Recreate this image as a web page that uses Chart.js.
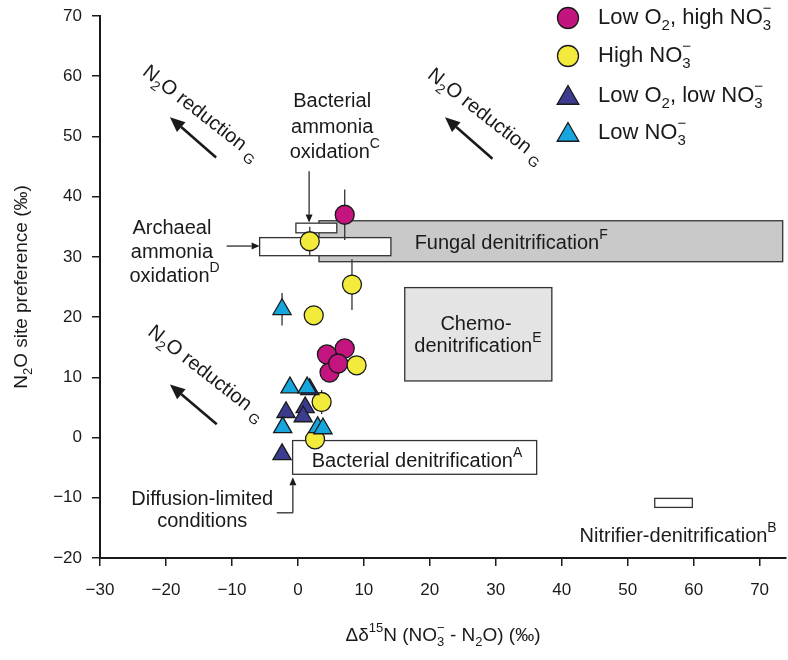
<!DOCTYPE html>
<html>
<head>
<meta charset="utf-8">
<script src="https://cdn.jsdelivr.net/npm/chart.js@4.4.1/dist/chart.umd.min.js"></script>
<style>
  html, body { margin: 0; padding: 0; background: #fff; }
  #wrap { width: 788px; height: 660px; }
</style>
</head>
<body>
<div id="wrap"><canvas id="chart" width="788" height="660"></canvas></div>
<script>
const FONT = '"Liberation Sans", Arial, sans-serif';
const MINUS = '\u2212';

// axis ranges / ticks
const xMin = -30, xMax = 74, xStep = 10;
const yMin = -20, yMax = 70, yStep = 10;

// Low O2, high NO3-
const magentaX = [7.1, 4.4, 7.1, 4.8, 6.1];
const magentaY = [37.0, 13.8, 14.8, 10.8, 12.3];
const magentaErr = [4.2, 0, 0, 0, 0];

// High NO3-
const yellowX = [1.8, 8.2, 2.4, 8.9, 3.6, 2.6];
const yellowY = [32.6, 25.4, 20.3, 12.0, 5.9, -0.3];
const yellowErr = [2.4, 4.2, 0, 0, 2.0, 0];

// Low O2, low NO3-
const darkX = [1.8, -1.8, 1.1, 0.8, -2.4];
const darkY = [8.0, 4.2, 5.0, 3.5, -2.8];

// Low NO3-
const lightX = [-2.4, -1.2, 1.4, -2.3, 3.0, 3.8];
const lightY = [21.3, 8.3, 8.3, 1.7, 1.7, 1.5];
const lightErr = [2.7, 0, 0, 0, 0, 0];

// process ranges (boxes), in data units
const regionX0 = [3.2, -5.8, -0.3, 16.2, -0.8, 54.1];
const regionX1 = [73.5, 14.1, 5.9, 38.5, 36.2, 59.8];
const regionY0 = [29.2, 30.2, 34.0, 9.4, -6.1, -11.6];
const regionY1 = [36.0, 33.2, 35.6, 24.9, -0.5, -10.1];
const regionFill = ['#c9c9c9', '#ffffff', '#ffffff', '#e4e4e4', '#ffffff', '#ffffff'];

const toPts = (xs, ys) => xs.map((x, i) => ({ x: x, y: ys[i] }));

// ---- rich text helpers (sub / superscripts) ----
function partFont(size, k) {
  return (k === '' ? size : Math.round(size * 0.68)) + 'px ' + FONT;
}
function richWidth(ctx, parts, size) {
  let w = 0;
  parts.forEach(([t, k]) => {
    ctx.font = partFont(size, k);
    if (k === 'ss') {
      const [a, b] = t.split('|');
      w += Math.max(ctx.measureText(a).width, ctx.measureText(b).width);
    } else {
      w += ctx.measureText(t).width;
    }
  });
  return w;
}
function drawRich(ctx, parts, x, y, size, align) {
  const w = richWidth(ctx, parts, size);
  let cx = align === 'center' ? x - w / 2 : align === 'right' ? x - w : x;
  ctx.textAlign = 'left';
  ctx.textBaseline = 'middle';
  parts.forEach(([t, k]) => {
    ctx.font = partFont(size, k);
    if (k === 'ss') {
      const [a, b] = t.split('|');
      ctx.fillText(a, cx, y + size * 0.36);
      ctx.fillText(b, cx, y - size * 0.42);
      cx += Math.max(ctx.measureText(a).width, ctx.measureText(b).width);
    } else {
      const dy = k === 'sub' ? size * 0.36 : k === 'sup' ? -size * 0.42 : 0;
      ctx.fillText(t, cx, y + dy);
      cx += ctx.measureText(t).width;
    }
  });
}

function drawArrow(ctx, x1, y1, x2, y2, lw, headLen, headW) {
  const a = Math.atan2(y2 - y1, x2 - x1);
  const bx = x2 - Math.cos(a) * headLen, by = y2 - Math.sin(a) * headLen;
  ctx.lineWidth = lw;
  ctx.beginPath();
  ctx.moveTo(x1, y1);
  ctx.lineTo(bx, by);
  ctx.stroke();
  ctx.beginPath();
  ctx.moveTo(x2, y2);
  ctx.lineTo(bx + Math.sin(a) * headW, by - Math.cos(a) * headW);
  ctx.lineTo(bx - Math.sin(a) * headW, by + Math.cos(a) * headW);
  ctx.closePath();
  ctx.fill();
}

// boxes + error bars behind the markers
const backgroundPlugin = {
  id: 'background',
  beforeDatasetsDraw(chart) {
    const ctx = chart.ctx, xs = chart.scales.x, ys = chart.scales.y;
    ctx.save();
    regionX0.forEach((x0, i) => {
      const l = xs.getPixelForValue(x0), r = xs.getPixelForValue(regionX1[i]);
      const t = ys.getPixelForValue(regionY1[i]), b = ys.getPixelForValue(regionY0[i]);
      ctx.fillStyle = regionFill[i];
      ctx.fillRect(l, t, r - l, b - t);
      ctx.strokeStyle = '#333';
      ctx.lineWidth = 1.3;
      ctx.strokeRect(l, t, r - l, b - t);
    });
    // error bars
    ctx.strokeStyle = '#333';
    ctx.lineWidth = 1.3;
    const bars = [[magentaX, magentaY, magentaErr], [yellowX, yellowY, yellowErr], [lightX, lightY, lightErr]];
    bars.forEach(([xv, yv, ev]) => {
      xv.forEach((x, i) => {
        if (!ev[i]) return;
        const px = xs.getPixelForValue(x);
        ctx.beginPath();
        ctx.moveTo(px, ys.getPixelForValue(yv[i] + ev[i]));
        ctx.lineTo(px, ys.getPixelForValue(yv[i] - ev[i]));
        ctx.stroke();
      });
    });
    ctx.restore();
  }
};

// labels, arrows, legend, axis titles
const annotationPlugin = {
  id: 'annotations',
  afterDraw(chart) {
    const ctx = chart.ctx, xs = chart.scales.x, ys = chart.scales.y;
    const X = v => xs.getPixelForValue(v), Y = v => ys.getPixelForValue(v);
    ctx.save();
    ctx.fillStyle = '#1a1a1a';
    ctx.strokeStyle = '#1a1a1a';

    // process labels
    const fs = 20;
    drawRich(ctx, [['Bacterial', '']], X(5.2), Y(55.8), fs, 'center');
    drawRich(ctx, [['ammonia', '']], X(5.2), Y(51.5), fs, 'center');
    drawRich(ctx, [['oxidation', ''], ['C', 'sup']], X(5.6), Y(47.3), fs, 'center');
    drawArrow(ctx, X(1.7), Y(44.2), X(1.7), Y(35.7), 1.2, 8, 3.5);

    drawRich(ctx, [['Archaeal', '']], X(-19.1), Y(34.7), fs, 'center');
    drawRich(ctx, [['ammonia', '']], X(-19.1), Y(30.7), fs, 'center');
    drawRich(ctx, [['oxidation', ''], ['D', 'sup']], X(-18.7), Y(26.7), fs, 'center');
    drawArrow(ctx, X(-10.8), Y(31.8), X(-5.8), Y(31.8), 1.2, 8, 3.5);

    drawRich(ctx, [['Fungal denitrification', ''], ['F', 'sup']], X(17.7), Y(32.2), fs, 'left');
    drawRich(ctx, [['Chemo-', '']], X(27.0), Y(18.8), fs, 'center');
    drawRich(ctx, [['denitrification', ''], ['E', 'sup']], X(27.3), Y(15.1), fs, 'center');
    drawRich(ctx, [['Bacterial denitrification', ''], ['A', 'sup']], X(2.1), Y(-3.9), fs, 'left');
    drawRich(ctx, [['Nitrifier-denitrification', ''], ['B', 'sup']], X(42.7), Y(-16.4), fs, 'left');

    drawRich(ctx, [['Diffusion-limited', '']], X(-14.5), Y(-10.3), fs, 'center');
    drawRich(ctx, [['conditions', '']], X(-14.5), Y(-14.0), fs, 'center');
    ctx.lineWidth = 1.2;
    ctx.beginPath();
    ctx.moveTo(X(-3.2), Y(-12.5));
    ctx.lineTo(X(-0.76), Y(-12.5));
    ctx.stroke();
    drawArrow(ctx, X(-0.76), Y(-12.5), X(-0.76), Y(-6.6), 1.2, 8, 3.5);

    // N2O reduction labels + arrows
    const red = [['N', ''], ['2', 'sub'], ['O reduction ', ''], ['G', 'sub']];
    const rot = 38 * Math.PI / 180;
    [[-23.2, 61.1], [20.0, 60.6], [-22.4, 17.9]].forEach(([vx, vy]) => {
      ctx.save();
      ctx.translate(X(vx), Y(vy));
      ctx.rotate(rot);
      drawRich(ctx, red, 0, 0, fs, 'left');
      ctx.restore();
    });
    [[-12.4, 46.5, -19.4, 53.2], [29.5, 46.3, 22.3, 53.2], [-12.3, 2.2, -19.4, 8.8]].forEach(([a, b, c, d]) => {
      drawArrow(ctx, X(a), Y(b), X(c), Y(d), 2.6, 15, 6.5);
    });

    // legend
    const legendItems = [
      { style: 'circle', color: '#c4147f', parts: [['Low O', ''], ['2', 'sub'], [', high NO', ''], ['3|' + MINUS, 'ss']] },
      { style: 'circle', color: '#f3eb3b', parts: [['High NO', ''], ['3|' + MINUS, 'ss']] },
      { style: 'triangle', color: '#3b3c8e', parts: [['Low O', ''], ['2', 'sub'], [', low NO', ''], ['3|' + MINUS, 'ss']] },
      { style: 'triangle', color: '#16a5dc', parts: [['Low NO', ''], ['3|' + MINUS, 'ss']] }
    ];
    const rowsY = [18, 56, 96, 133];
    legendItems.forEach((it, i) => {
      ctx.fillStyle = it.color;
      ctx.strokeStyle = '#1a1a1a';
      ctx.lineWidth = 1.3;
      Chart.helpers.drawPoint(ctx, { pointStyle: it.style, radius: it.style === 'circle' ? 10.5 : 12.5, borderWidth: 1.3, rotation: 0 }, 568, rowsY[i] + (it.style === 'circle' ? 0 : 2));
      ctx.fillStyle = '#1a1a1a';
      drawRich(ctx, it.parts, 598, rowsY[i], 22, 'left');
    });

    // axis titles
    drawRich(ctx, [['\u0394\u03b4', ''], ['15', 'sup'], ['N (NO', ''], ['3|' + MINUS, 'ss'], [' - N', ''], ['2', 'sub'], ['O) (\u2030)', '']], 443, 636, 19, 'center');
    ctx.save();
    ctx.translate(22, 287);
    ctx.rotate(-Math.PI / 2);
    drawRich(ctx, [['N', ''], ['2', 'sub'], ['O site preference (\u2030)', '']], 0, 0, 19, 'center');
    ctx.restore();

    ctx.restore();
  }
};

const pointBase = { borderColor: '#1a1a1a', borderWidth: 1.3, showLine: false };

const chart = new Chart(document.getElementById('chart'), {
  type: 'scatter',
  data: {
    datasets: [
      Object.assign({ label: 'Low NO3-', data: toPts(lightX, lightY), pointStyle: 'triangle', pointRadius: 10.5, backgroundColor: '#16a5dc', order: 1 }, pointBase),
      Object.assign({ label: 'Low O2, low NO3-', data: toPts(darkX, darkY), pointStyle: 'triangle', pointRadius: 10.5, backgroundColor: '#3b3c8e', order: 2 }, pointBase),
      Object.assign({ label: 'High NO3-', data: toPts(yellowX, yellowY), pointStyle: 'circle', pointRadius: 9.5, backgroundColor: '#f3eb3b', order: 3 }, pointBase),
      Object.assign({ label: 'Low O2, high NO3-', data: toPts(magentaX, magentaY), pointStyle: 'circle', pointRadius: 9.5, backgroundColor: '#c4147f', order: 4 }, pointBase)
    ]
  },
  options: {
    responsive: false,
    animation: false,
    devicePixelRatio: 1,
    layout: { autoPadding: false, padding: { top: 16, right: 2, left: 0, bottom: 0 } },
    plugins: { legend: { display: false }, tooltip: { enabled: false } },
    scales: {
      x: {
        type: 'linear',
        min: xMin,
        max: xMax,
        afterFit: s => { s.height = 102; s.paddingLeft = 0; s.paddingRight = 0; },
        ticks: {
          stepSize: xStep,
          includeBounds: false,
          color: '#1a1a1a',
          font: { family: FONT, size: 17 },
          padding: 14,
          maxRotation: 0,
          callback: v => String(v).replace('-', MINUS)
        },
        grid: { drawOnChartArea: false, drawTicks: true, tickLength: 8, color: '#1a1a1a', lineWidth: 1.5 },
        border: { display: true, color: '#1a1a1a', width: 2 }
      },
      y: {
        type: 'linear',
        min: yMin,
        max: yMax,
        afterFit: s => { s.width = 100; s.paddingTop = 0; s.paddingBottom = 0; },
        ticks: {
          stepSize: yStep,
          color: '#1a1a1a',
          font: { family: FONT, size: 17 },
          padding: 10,
          callback: v => String(v).replace('-', MINUS)
        },
        grid: { drawOnChartArea: false, drawTicks: true, tickLength: 8, color: '#1a1a1a', lineWidth: 1.5 },
        border: { display: true, color: '#1a1a1a', width: 2 }
      }
    }
  },
  plugins: [backgroundPlugin, annotationPlugin]
});
</script>
</body>
</html>
